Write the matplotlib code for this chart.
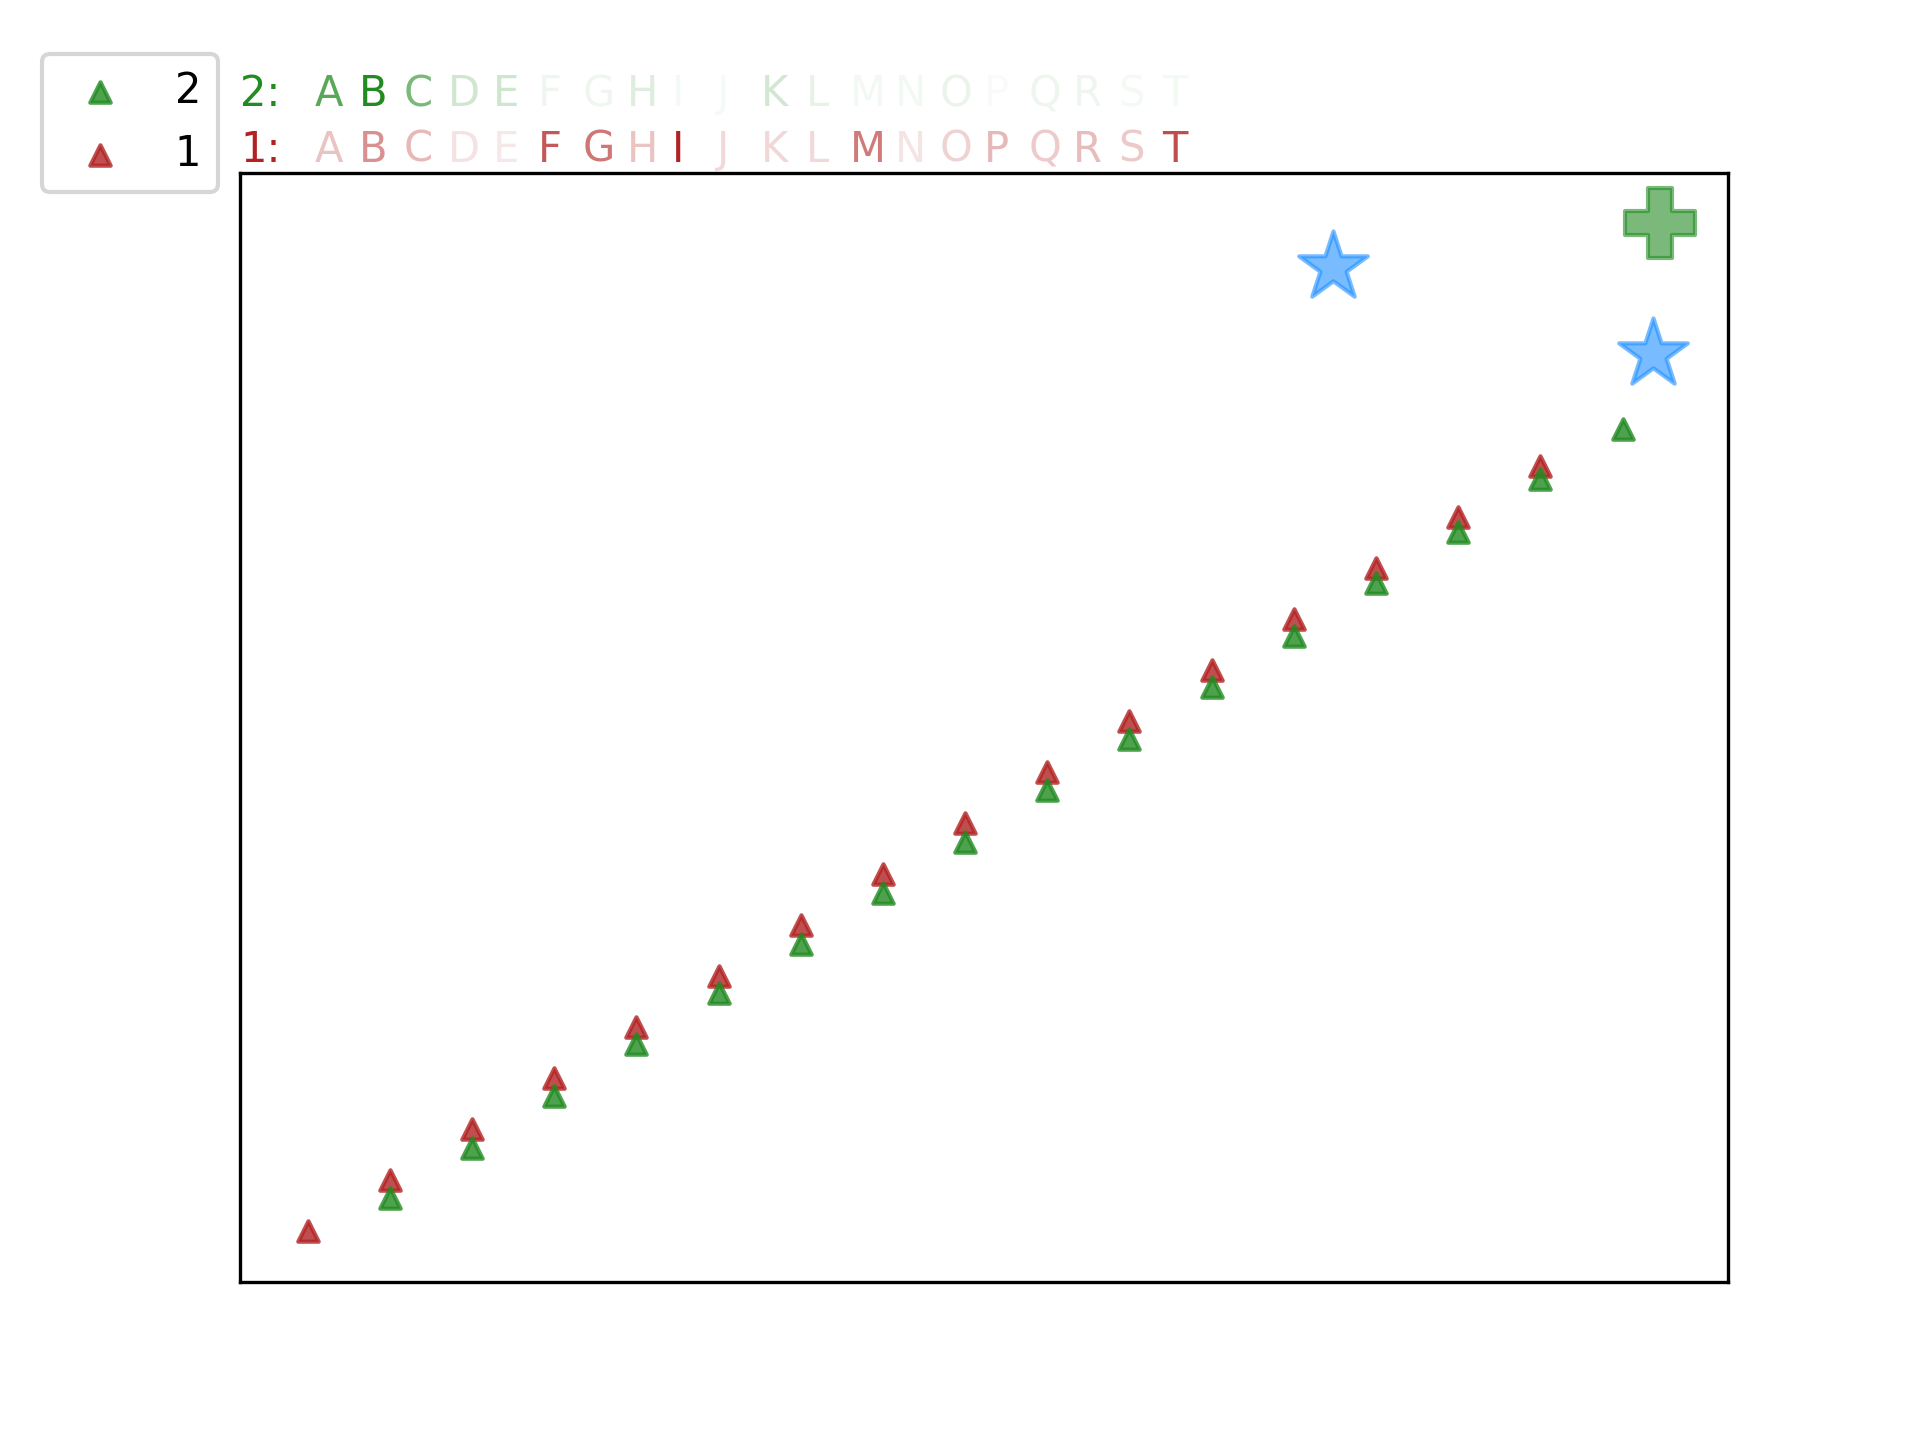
import matplotlib
matplotlib.use("Agg")
import matplotlib.pyplot as plt

# ---- data ----
series1_label = "1"
series1_x = [0, 1, 2, 3, 4, 5, 6, 7, 8, 9, 10, 11, 12, 13, 14, 15]
series1_y = [0, 1, 2, 3, 4, 5, 6, 7, 8, 9, 10, 11, 12, 13, 14, 15]

series2_label = "2"
series2_x = [1, 2, 3, 4, 5, 6, 7, 8, 9, 10, 11, 12, 13, 14, 15, 16]
series2_y = [0.65, 1.63, 2.64, 3.67, 4.66, 5.62, 6.62, 7.63, 8.64, 9.65,
             10.66, 11.66, 12.70, 13.70, 14.74, 15.72]

stars_x = [12.48, 16.37]
stars_y = [18.90, 17.18]
plus_x = [16.46]
plus_y = [19.75]

letters = list("ABCDEFGHIJKLMNOPQRST")
weights1 = [0.27, 0.50, 0.32, 0.13, 0.10, 0.75, 0.62, 0.27, 1.00, 0.17,
            0.18, 0.17, 0.60, 0.12, 0.20, 0.32, 0.23, 0.30, 0.24, 0.80]
weights2 = [0.75, 1.00, 0.60, 0.21, 0.22, 0.07, 0.07, 0.15, 0.05, 0.04,
            0.20, 0.10, 0.06, 0.06, 0.09, 0.03, 0.07, 0.07, 0.05, 0.05]

color1 = "firebrick"
color2 = "forestgreen"

fig, ax = plt.subplots(figsize=(6.4, 4.8), dpi=300)

h1 = ax.scatter(series1_x, series1_y, marker="^", s=24, color=color1,
                alpha=0.8, label=series1_label, zorder=2)
h2 = ax.scatter(series2_x, series2_y, marker="^", s=24, color=color2,
                alpha=0.8, label=series2_label, zorder=3)
ax.scatter(stars_x, stars_y, marker="*", s=300, color="dodgerblue", alpha=0.6, zorder=3)
ax.scatter(plus_x, plus_y, marker="P", s=290, color=color2, alpha=0.6, zorder=3)

ax.set_xticks([])
ax.set_yticks([])

# letter rows above the axes
x0 = 0.05
pitch = 0.03
rows = [(1.052, "2:", color2, weights2), (1.002, "1:", color1, weights1)]
for y, prefix, col, w in rows:
    ax.text(0.0, y, prefix, color=col, fontsize=10, ha="left", va="bottom",
            transform=ax.transAxes, clip_on=False)
    for i, (ch, a) in enumerate(zip(letters, w)):
        ax.text(x0 + i * pitch, y, ch, color=col, alpha=a, fontsize=10,
                ha="left", va="bottom", transform=ax.transAxes, clip_on=False)

leg = ax.legend(handles=[h2, h1], labels=[series2_label, series1_label],
                loc="upper right", bbox_to_anchor=(218 / 1920, 1 - 53.7 / 1440),
                bbox_transform=fig.transFigure, borderaxespad=0, fontsize=10)

fig.savefig("out.png", dpi=300)
